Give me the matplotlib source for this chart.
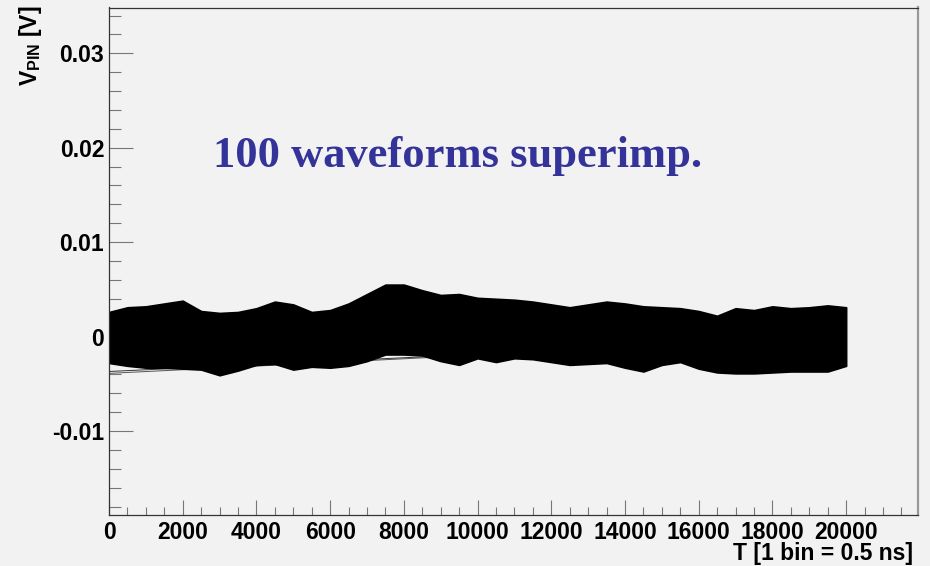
import matplotlib
matplotlib.use("Agg")
import matplotlib.pyplot as plt
import numpy as np
from matplotlib.ticker import FixedLocator, MultipleLocator, FuncFormatter

# envelope of the 100 superimposed PIN waveforms, sampled every 500 bins
bins = np.arange(0, 20001, 500)
v_upper = [0.0026, 0.0031, 0.0032, 0.0035, 0.0038, 0.0027, 0.0025, 0.0026,
           0.0030, 0.0037, 0.0034, 0.0026, 0.0028, 0.0035, 0.0045, 0.0055,
           0.0055, 0.0049, 0.0044, 0.0045, 0.0041, 0.0040, 0.0039, 0.0037,
           0.0034, 0.0031, 0.0034, 0.0037, 0.0035, 0.0032, 0.0031, 0.0030,
           0.0027, 0.0022, 0.0030, 0.0028, 0.0032, 0.0030, 0.0031, 0.0033,
           0.0031]
v_lower = [-0.0028, -0.0031, -0.0033, -0.0033, -0.0034, -0.0035, -0.0041,
           -0.0036, -0.0030, -0.0029, -0.0035, -0.0032, -0.0033, -0.0031,
           -0.0026, -0.0019, -0.0019, -0.0020, -0.0026, -0.0030, -0.0023,
           -0.0027, -0.0023, -0.0024, -0.0027, -0.0030, -0.0029, -0.0028,
           -0.0033, -0.0037, -0.0030, -0.0027, -0.0034, -0.0038, -0.0039,
           -0.0039, -0.0038, -0.0037, -0.0037, -0.0037, -0.0031]

# a couple of slow baseline drifts sitting under the band
drift_bins = [0, 8800]
drift_a = [-0.0039, -0.0022]
drift_b = [-0.0037, -0.0021]

xticks = [0, 2000, 4000, 6000, 8000, 10000, 12000, 14000, 16000, 18000, 20000]
yticks = [-0.01, 0.0, 0.01, 0.02, 0.03]

bg = "#f2f2f2"
plt.rcParams["font.family"] = ["Liberation Sans", "DejaVu Sans"]
plt.rcParams["mathtext.fontset"] = "custom"
plt.rcParams["mathtext.rm"] = "Liberation Sans:bold"
plt.rcParams["mathtext.bf"] = "Liberation Sans:bold"

fig = plt.figure(figsize=(9.3, 5.66), dpi=100, facecolor=bg)
ax = fig.add_axes([109 / 930, 51 / 566, 809 / 930, 507.5 / 566])
ax.set_facecolor(bg)

# drifts go underneath so only the parts outside the band show
ax.plot(drift_bins, drift_a, color="#555555", lw=0.7, zorder=1)
ax.plot(drift_bins, drift_b, color="#333333", lw=0.7, zorder=1)
ax.fill_between(bins, v_lower, v_upper, color="black", lw=1.2,
                edgecolor="black", zorder=2)

ax.set_xlim(0, 21950)
ax.set_ylim(-0.0189, 0.03485)

ax.xaxis.set_major_locator(FixedLocator(xticks))
ax.xaxis.set_minor_locator(MultipleLocator(500))
ax.yaxis.set_major_locator(FixedLocator(yticks))
ax.yaxis.set_minor_locator(MultipleLocator(0.002))
ax.xaxis.set_major_formatter(FuncFormatter(lambda v, p: "%d" % v))
ax.yaxis.set_major_formatter(FuncFormatter(lambda v, p: "%g" % round(v, 4)))

ax.tick_params(axis="both", which="both", direction="in", colors="#777777",
               labelcolor="black", labelsize=16.5, width=0.8)
ax.tick_params(axis="y", which="major", length=17, pad=3.5)
ax.tick_params(axis="y", which="minor", length=8.5)
ax.tick_params(axis="x", which="major", length=10.5, pad=4)
ax.tick_params(axis="x", which="minor", length=5.8)
for lbl in ax.get_xticklabels() + ax.get_yticklabels():
    lbl.set_fontweight("bold")

for side in ["left", "bottom", "top"]:
    ax.spines[side].set_color("#333333")
    ax.spines[side].set_linewidth(0.9)
ax.spines["right"].set_color("#999999")
ax.spines["right"].set_linewidth(1.6)

fig.text(30 / 930, 1 - 6 / 566, r"$\mathbf{V}_{\mathbf{PIN}}$ [V]", rotation=90,
         ha="center", va="top", fontsize=16.5, fontweight="bold")
fig.text(913 / 930, 1 - 560 / 566, "T [1 bin = 0.5 ns]", ha="right",
         va="baseline", fontsize=16.5, fontweight="bold")

ax.text(458 / 930, 1 - 167 / 566, "100 waveforms superimp.",
        transform=fig.transFigure, ha="center", va="baseline",
        family="Liberation Serif", fontweight="bold", fontsize=32,
        color="#333399")

fig.savefig("out.png", dpi=100, facecolor=bg)
